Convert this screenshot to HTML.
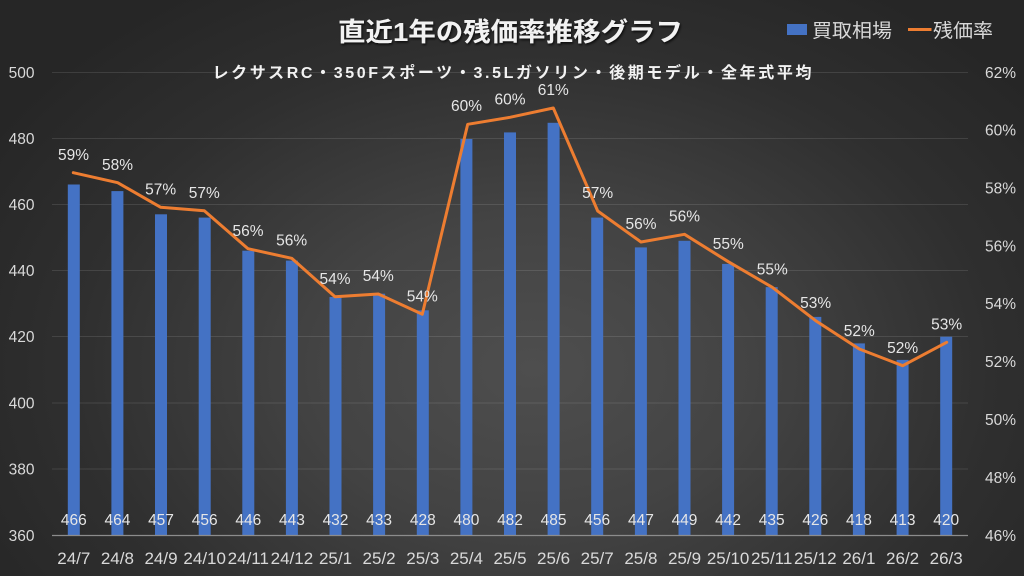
<!DOCTYPE html>
<html><head><meta charset="utf-8">
<style>
html,body{margin:0;padding:0;}
body{width:1024px;height:576px;overflow:hidden;
background:radial-gradient(ellipse 62% 78% at 52% 64%, #4e4e4e 0%, #434343 35%, #2f2f2f 72%, #262626 100%);}
svg{display:block;font-family:"Liberation Sans","Noto Sans CJK JP",sans-serif;}
</style></head><body>
<svg width="1024" height="576" viewBox="0 0 1024 576" xmlns="http://www.w3.org/2000/svg">
<defs>
<filter id="sh" x="-5%" y="-20%" width="110%" height="150%">
<feDropShadow dx="1" dy="1.5" stdDeviation="1.2" flood-color="#000" flood-opacity="0.8"/>
</filter>
</defs>
<g stroke="#ffffff" stroke-opacity="0.11" stroke-width="1">
<line x1="52" x2="968" y1="72.5" y2="72.5"/>
<line x1="52" x2="968" y1="138.5" y2="138.5"/>
<line x1="52" x2="968" y1="204.5" y2="204.5"/>
<line x1="52" x2="968" y1="270.5" y2="270.5"/>
<line x1="52" x2="968" y1="336.5" y2="336.5"/>
<line x1="52" x2="968" y1="403" y2="403"/>
<line x1="52" x2="968" y1="469" y2="469"/>
</g>
<text x="510.5" y="41" text-anchor="middle" font-size="26" font-weight="bold" fill="#f2f2f2" textLength="345" lengthAdjust="spacingAndGlyphs" filter="url(#sh)">直近1年の残価率推移グラフ</text>
<text x="512" y="78" text-anchor="middle" font-size="16" font-weight="bold" fill="#f2f2f2" textLength="599" lengthAdjust="spacing">レクサスRC・350Fスポーツ・3.5Lガソリン・後期モデル・全年式平均</text>
<rect x="787" y="24" width="20" height="11" fill="#4472C4"/>
<text x="812" y="37" font-size="19" fill="#d9d9d9" textLength="80" lengthAdjust="spacingAndGlyphs">買取相場</text>
<line x1="908" x2="931.5" y1="29.5" y2="29.5" stroke="#ED7D31" stroke-width="3"/>
<text x="933" y="37" font-size="19" fill="#d9d9d9" textLength="60" lengthAdjust="spacingAndGlyphs">残価率</text>
<g font-size="15.5" fill="#d9d9d9" text-anchor="end">
<text x="34.5" y="78">500</text>
<text x="34.5" y="144">480</text>
<text x="34.5" y="210">460</text>
<text x="34.5" y="276">440</text>
<text x="34.5" y="342">420</text>
<text x="34.5" y="408.5">400</text>
<text x="34.5" y="474.5">380</text>
<text x="34.5" y="541">360</text>
</g>
<g font-size="15.5" fill="#d9d9d9" text-anchor="start">
<text x="985" y="78">62%</text>
<text x="985" y="135.5">60%</text>
<text x="985" y="193.5">58%</text>
<text x="985" y="251.5">56%</text>
<text x="985" y="309">54%</text>
<text x="985" y="367">52%</text>
<text x="985" y="425">50%</text>
<text x="985" y="483">48%</text>
<text x="985" y="541">46%</text>
</g>
<g fill="#4472C4">
<rect x="67.8" y="184.5" width="12" height="350.8"/>
<rect x="111.4" y="191.1" width="12" height="344.2"/>
<rect x="155.0" y="214.3" width="12" height="321.0"/>
<rect x="198.7" y="217.6" width="12" height="317.7"/>
<rect x="242.3" y="250.7" width="12" height="284.6"/>
<rect x="285.9" y="260.6" width="12" height="274.7"/>
<rect x="329.5" y="297.0" width="12" height="238.3"/>
<rect x="373.1" y="293.7" width="12" height="241.6"/>
<rect x="416.8" y="310.3" width="12" height="225.0"/>
<rect x="460.4" y="139.0" width="12" height="396.3"/>
<rect x="504.0" y="132.4" width="12" height="402.9"/>
<rect x="547.6" y="122.8" width="12" height="412.5"/>
<rect x="591.2" y="217.6" width="12" height="317.7"/>
<rect x="634.9" y="247.4" width="12" height="287.9"/>
<rect x="678.5" y="240.8" width="12" height="294.5"/>
<rect x="722.1" y="263.9" width="12" height="271.4"/>
<rect x="765.7" y="287.1" width="12" height="248.2"/>
<rect x="809.3" y="316.9" width="12" height="218.4"/>
<rect x="852.9" y="343.4" width="12" height="191.9"/>
<rect x="896.6" y="359.9" width="12" height="175.4"/>
<rect x="940.2" y="336.7" width="12" height="198.6"/>
</g>
<line x1="52" x2="968" y1="535.5" y2="535.5" stroke="#8c8c8c" stroke-width="1.2"/>
<g font-size="15.5" fill="#e6e6e6" text-anchor="middle">
<text x="73.8" y="525">466</text>
<text x="117.4" y="525">464</text>
<text x="161.0" y="525">457</text>
<text x="204.7" y="525">456</text>
<text x="248.3" y="525">446</text>
<text x="291.9" y="525">443</text>
<text x="335.5" y="525">432</text>
<text x="379.1" y="525">433</text>
<text x="422.8" y="525">428</text>
<text x="466.4" y="525">480</text>
<text x="510.0" y="525">482</text>
<text x="553.6" y="525">485</text>
<text x="597.2" y="525">456</text>
<text x="640.9" y="525">447</text>
<text x="684.5" y="525">449</text>
<text x="728.1" y="525">442</text>
<text x="771.7" y="525">435</text>
<text x="815.3" y="525">426</text>
<text x="858.9" y="525">418</text>
<text x="902.6" y="525">413</text>
<text x="946.2" y="525">420</text>
</g>
<polyline fill="none" stroke="#ED7D31" stroke-width="3" stroke-linejoin="round" stroke-linecap="round"
points="73.3,172.7 117.7,182.7 160.7,207.3 204.3,210.7 248,248.7 291.7,258.3 335,296.7 378.3,294 422.3,314.2 467.7,124.3 510,117.3 553.3,108 597.7,211 641,242 684.5,234.3 728.3,261.7 772.3,287.3 815.7,320.7 859.3,349 902.7,365.7 946.7,342.3"/>
<g font-size="15.5" fill="#e6e6e6" text-anchor="middle">
<text x="73.5" y="160">59%</text>
<text x="117.5" y="170">58%</text>
<text x="160.7" y="194.5">57%</text>
<text x="204.3" y="198">57%</text>
<text x="248" y="236">56%</text>
<text x="291.7" y="245.5">56%</text>
<text x="335" y="284">54%</text>
<text x="378.3" y="281">54%</text>
<text x="422.3" y="301.5">54%</text>
<text x="466.5" y="111">60%</text>
<text x="510" y="104.5">60%</text>
<text x="553.3" y="95">61%</text>
<text x="597.7" y="198">57%</text>
<text x="641" y="229">56%</text>
<text x="684.5" y="221.5">56%</text>
<text x="728.3" y="249">55%</text>
<text x="772.3" y="274.5">55%</text>
<text x="815.7" y="308">53%</text>
<text x="859.3" y="336">52%</text>
<text x="902.7" y="353">52%</text>
<text x="946.7" y="329.5">53%</text>
</g>
<g font-size="17" fill="#d9d9d9" text-anchor="middle">
<text x="73.8" y="564">24/7</text>
<text x="117.4" y="564">24/8</text>
<text x="161.0" y="564">24/9</text>
<text x="204.7" y="564">24/10</text>
<text x="248.3" y="564">24/11</text>
<text x="291.9" y="564">24/12</text>
<text x="335.5" y="564">25/1</text>
<text x="379.1" y="564">25/2</text>
<text x="422.8" y="564">25/3</text>
<text x="466.4" y="564">25/4</text>
<text x="510.0" y="564">25/5</text>
<text x="553.6" y="564">25/6</text>
<text x="597.2" y="564">25/7</text>
<text x="640.9" y="564">25/8</text>
<text x="684.5" y="564">25/9</text>
<text x="728.1" y="564">25/10</text>
<text x="771.7" y="564">25/11</text>
<text x="815.3" y="564">25/12</text>
<text x="858.9" y="564">26/1</text>
<text x="902.6" y="564">26/2</text>
<text x="946.2" y="564">26/3</text>
</g>
</svg>
</body></html>
